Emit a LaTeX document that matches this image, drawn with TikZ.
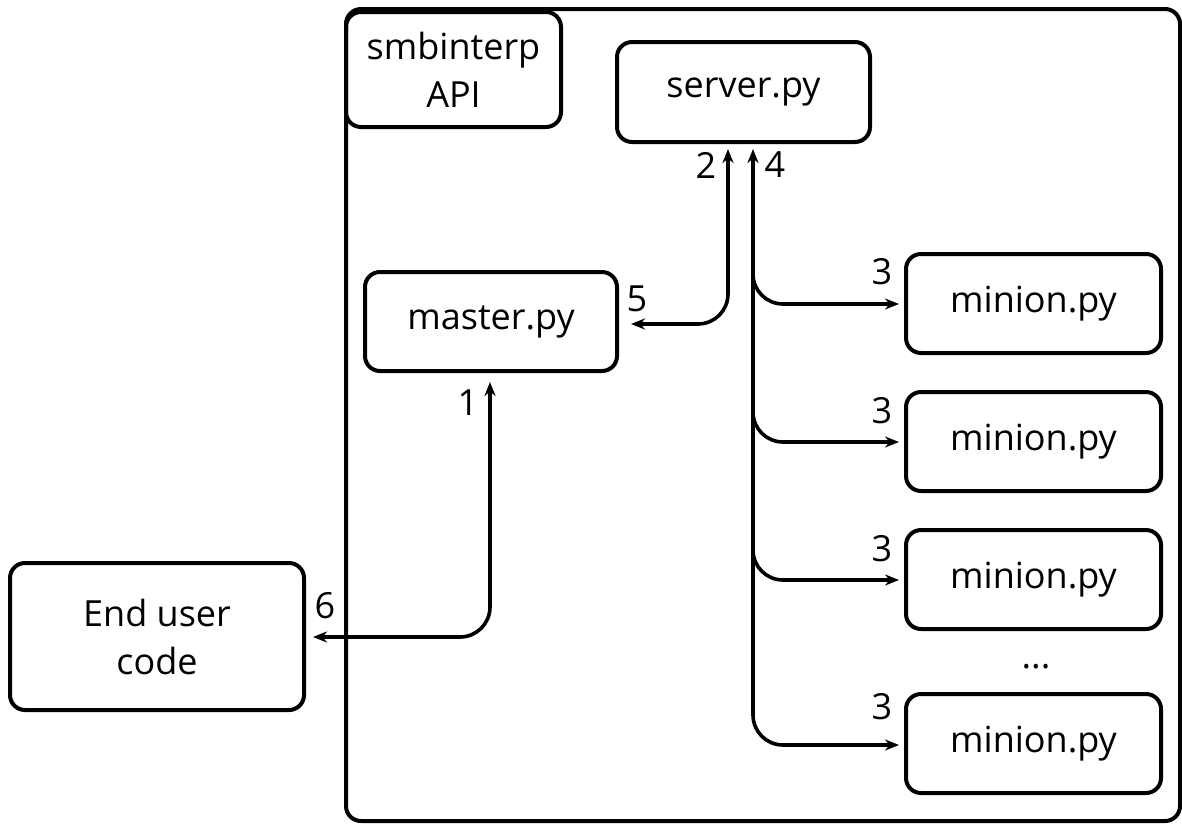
\documentclass[tikz,border=0pt]{standalone}
\usepackage{fontspec}
\setmainfont{Open Sans}
\usetikzlibrary{arrows.meta}
\begin{document}
\begin{tikzpicture}[x=1pt,y=-1pt,
  txt/.style={font=\fontsize{36}{48}\selectfont},
  box/.style={draw, line width=4pt, rounded corners=15pt, align=center,
    inner sep=0pt, txt},
  lbl/.style={inner sep=0pt, txt},
  conn/.style={line width=3.6pt, rounded corners=30pt},
  tip/.tip={Stealth[length=14pt,width=11pt,inset=4.5pt]}]
\useasboundingbox (0,0) rectangle (1182,823);

% enclosing API frame and its caption box
\node[box, minimum width=834pt, minimum height=812pt] (api) at (763,415) {};
\node[box, minimum width=215pt, minimum height=115pt] (title) at (453.5,69.5) {smbinterp\\API};

% components
\node[box, minimum width=253pt, minimum height=100pt] (server) at (743.5,92) {server.py};
\node[box, minimum width=252pt, minimum height=99pt] (master) at (491,321.5) {master.py};
\node[box, minimum width=294pt, minimum height=147pt] (user) at (157,636.5) {End user\\code};
\node[box, minimum width=255pt, minimum height=99pt] (m1) at (1033.5,303.5) {minion.py};
\node[box, minimum width=255pt, minimum height=99pt] (m2) at (1033.5,441.5) {minion.py};
\node[box, minimum width=255pt, minimum height=99pt] (m3) at (1033.5,579.5) {minion.py};
\node[box, minimum width=255pt, minimum height=99pt] (m4) at (1033.5,743.5) {minion.py};
\node[lbl] (dots) at (1036,667) {...};

% connector end points
\coordinate (s2) at (728,149);
\coordinate (s4) at (753,149);
\coordinate (mr) at (631,324);
\coordinate (mb) at (490,382);
\coordinate (ur) at (313,637);
\coordinate (b1) at (753,240);
\coordinate (b2) at (753,380);
\coordinate (b3) at (753,520);
\coordinate (t1) at (899,304);
\coordinate (t2) at (899,442);
\coordinate (t3) at (899,580);
\coordinate (t4) at (899,745);

% connectors
\draw[conn, tip-tip] (s2) |- (mr);
\draw[conn, tip-tip] (mb) |- (ur);
\draw[conn, tip-tip] (s4) |- (t4);
\draw[conn, -tip] (b1) |- (t1);
\draw[conn, -tip] (b2) |- (t2);
\draw[conn, -tip] (b3) |- (t3);

% step numbers
\node[lbl] (n2) at (706,165) {2};
\node[lbl] (n4) at (775,165) {4};
\node[lbl] (n5) at (637,299) {5};
\node[lbl] (n1) at (468,403) {1};
\node[lbl] (n6) at (325,606) {6};
\node[lbl] (n3a) at (882,272) {3};
\node[lbl] (n3b) at (882,411) {3};
\node[lbl] (n3c) at (882,549) {3};
\node[lbl] (n3d) at (882,707) {3};
\end{tikzpicture}
\end{document}
